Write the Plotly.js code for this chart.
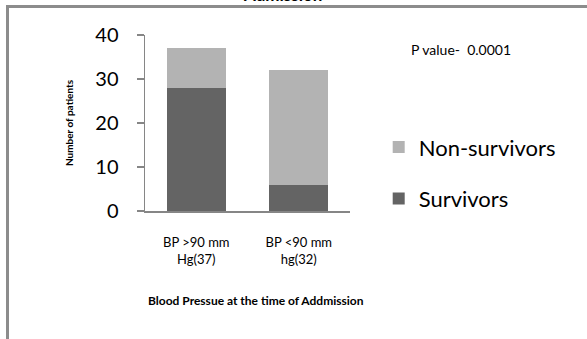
<!DOCTYPE html>
<html>
<head>
<meta charset="utf-8">
<script src="https://cdn.plot.ly/plotly-3.0.1.min.js"></script>
<style>
  html, body { margin: 0; padding: 0; background: #fff; }
  #wrap { position: relative; width: 587px; height: 339px; overflow: hidden; }
  #chart { position: absolute; left: 0; top: 0; width: 587px; height: 339px; }
  #frame { position: absolute; left: 6px; top: 5px; width: 600px; height: 400px;
           border-left: 3px solid #8c8c8c; border-top: 3px solid #8c8c8c; pointer-events: none; }
</style>
</head>
<body>
<div id="wrap">
  <div id="chart"></div>
  <div id="frame"></div>
</div>
<script>
const categories = ["BP >90 mm<br>Hg(37)", "BP <90 mm<br>hg(32)"];
const survivors = [28, 6];
const nonSurvivors = [9, 26];
const yTicks = [0, 10, 20, 30, 40];

const FONT = "Lato, 'Open Sans', sans-serif";
const AXIS = "#868686";

const traces = [
  { type: "bar", name: "Survivors", x: categories, y: survivors,
    marker: { color: "#646464" }, width: 0.58, legendgroup: "s", legendrank: 2, hoverinfo: "none" },
  { type: "bar", name: "Non-survivors", x: categories, y: nonSurvivors,
    marker: { color: "#b3b3b3" }, width: 0.58, legendgroup: "n", legendrank: 1, hoverinfo: "none" }
];

const layout = {
  width: 587, height: 339,
  margin: { l: 145, r: 237, t: 35, b: 128 },
  paper_bgcolor: "#fff", plot_bgcolor: "#fff",
  barmode: "stack",
  font: { family: FONT, color: "#000" },
  showlegend: true,
  legend: {
    x: 1.14, xanchor: "left", y: 0.482, yanchor: "top",
    traceorder: "grouped", tracegroupgap: 20,
    font: { size: 22, family: FONT, color: "#000" },
    bgcolor: "rgba(0,0,0,0)", borderwidth: 0
  },
  xaxis: {
    type: "category",
    showline: true, linecolor: AXIS, linewidth: 1.5,
    ticks: "", showgrid: false, zeroline: false,
    tickfont: { size: 13, family: FONT, color: "#000" },
    ticklabelstandoff: 19
  },
  yaxis: {
    range: [0, 40], tickvals: yTicks, ticktext: yTicks.map(String),
    showline: true, linecolor: AXIS, linewidth: 1.5,
    ticks: "outside", ticklen: 7, tickcolor: AXIS, tickwidth: 1.5,
    showgrid: false, zeroline: false,
    tickfont: { size: 20, family: FONT, color: "#000" },
    ticklabelstandoff: 14,
    title: { text: "<b>Number of patients</b>", font: { size: 10, family: FONT, color: "#000" }, standoff: 20 }
  },
  annotations: [
    { text: "P value-\u00a0 0.0001", xref: "paper", yref: "paper",
      x: (409 - 145) / 205, y: (211 - 49) / 176, xanchor: "left", yanchor: "middle",
      showarrow: false, font: { size: 14, family: FONT, color: "#000" } },
    { text: "<b>Blood Pressue at the time of Addmission</b>", xref: "paper", yref: "paper",
      x: (256 - 145) / 205, y: (211 - 300) / 176, xanchor: "center", yanchor: "middle",
      showarrow: false, font: { size: 12, family: FONT, color: "#000" } },
    { text: "<b>Admission</b>", xref: "paper", yref: "paper",
      x: (282 - 145) / 205, y: (211 + 6) / 176, xanchor: "center", yanchor: "middle",
      showarrow: false, font: { size: 17, family: FONT, color: "#000" } }
  ]
};

Plotly.newPlot("chart", traces, layout, { displayModeBar: false, staticPlot: true });
</script>
</body>
</html>
